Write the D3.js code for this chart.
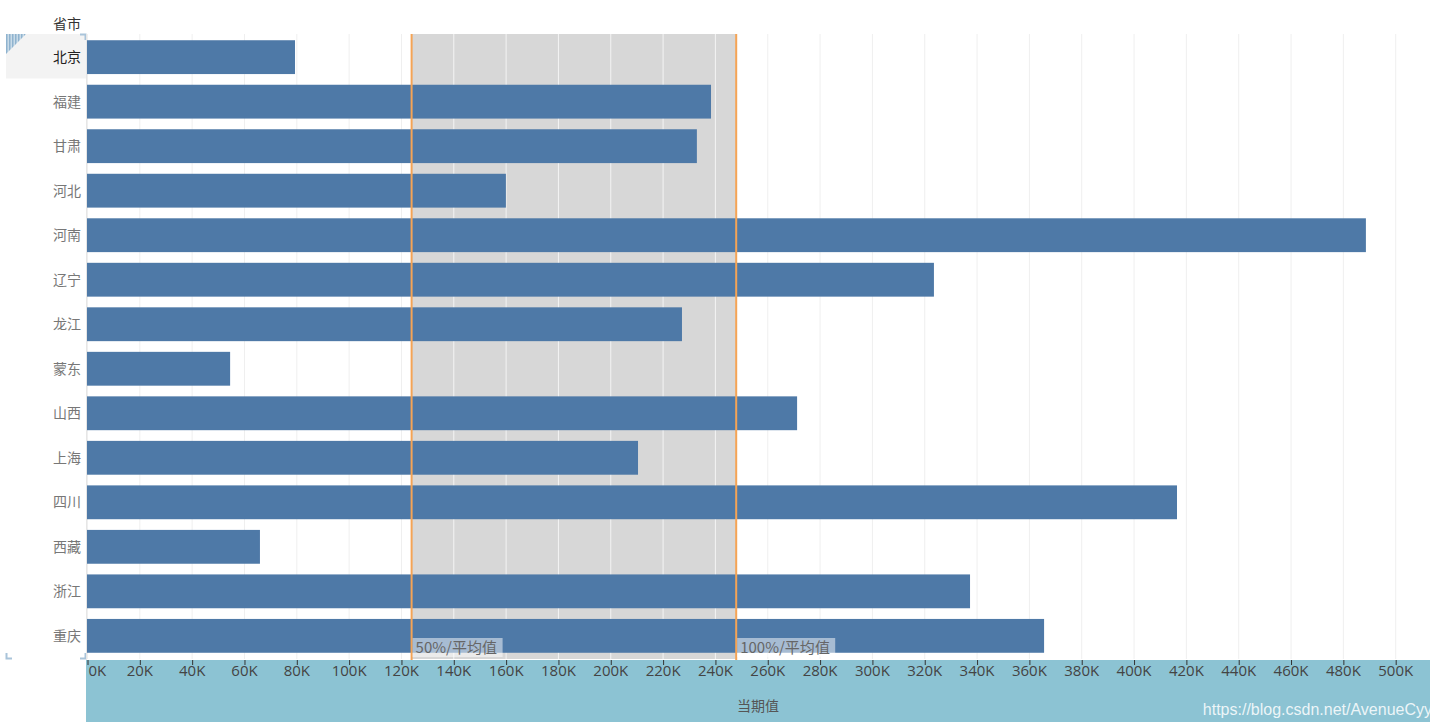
<!DOCTYPE html>
<html>
<head>
<meta charset="utf-8">
<script src="https://cdn.jsdelivr.net/npm/d3@7"></script>
<style>
  body { margin: 0; background: #fff; }
  svg { display: block; }
</style>
</head>
<body>
<div id="chart"></div>
<script>
// 省市 与 当期值
var provinces = ['北京', '福建', '甘肃', '河北', '河南', '辽宁', '龙江', '蒙东', '山西', '上海', '四川', '西藏', '浙江', '重庆'];
var values = [79500, 238500, 233100, 160100, 488800, 323700, 227400, 54700, 271400, 210600, 416600, 66100, 337500, 365800];
var tickValues = d3.range(0, 520000, 20000);
var bandPercents = [0.5, 1.0];
var bandLabels = ['50%/平均值', '100%/平均值'];

var W = 1442, H = 728;
var plotLeft = 87, plotRight = 1430, plotTop = 34, plotBottom = 659;

var svg = d3.select('#chart').append('svg')
    .attr('width', W)
    .attr('height', H);

var x = d3.scaleLinear().domain([0, 513300]).range([plotLeft, plotRight]);
var y = d3.scaleBand().domain(provinces).range([plotTop, plotBottom]).paddingInner(0.24).paddingOuter(0.14);

var avg = d3.mean(values);
var x0 = x(avg * bandPercents[0]), x1 = x(avg * bandPercents[1]);

// selected row background
svg.append('rect')
    .attr('x', 6).attr('y', plotTop)
    .attr('width', plotLeft - 7).attr('height', y.step())
    .attr('fill', '#f3f3f3');

// striped triangle in corner
var defs = svg.append('defs');
var pat = defs.append('pattern').attr('id', 'stripes')
    .attr('width', 3).attr('height', 3).attr('patternUnits', 'userSpaceOnUse');
pat.append('rect').attr('width', 3).attr('height', 3).attr('fill', '#c9dbe8');
pat.append('rect').attr('width', 1.5).attr('height', 3).attr('fill', '#8fb3cf');
svg.append('path')
    .attr('d', 'M6,34 L26,34 L6,54 Z')
    .attr('fill', 'url(#stripes)');

// corner brackets
var br = '#a9c4da';
svg.append('path').attr('d', 'M80,34.5 L85.5,34.5 L85.5,40').attr('fill', 'none').attr('stroke', br).attr('stroke-width', 2);
svg.append('path').attr('d', 'M6.5,653 L6.5,658.5 L12,658.5').attr('fill', 'none').attr('stroke', br).attr('stroke-width', 2);
svg.append('path').attr('d', 'M80,658.5 L85.5,658.5 L85.5,653').attr('fill', 'none').attr('stroke', br).attr('stroke-width', 2);

// grid lines
svg.append('g').selectAll('line')
    .data(tickValues)
    .enter()
    .append('line')
    .attr('x1', function (d) { return x(d) + 0.5; })
    .attr('x2', function (d) { return x(d) + 0.5; })
    .attr('y1', plotTop).attr('y2', plotBottom)
    .attr('stroke', '#efefef');

// reference band
svg.append('rect')
    .attr('x', x0).attr('y', plotTop)
    .attr('width', x1 - x0).attr('height', plotBottom - plotTop)
    .attr('fill', '#d7d7d7');

svg.append('g').selectAll('line')
    .data(tickValues.filter(function (d) { return x(d) > x0 + 1 && x(d) < x1 - 1; }))
    .enter()
    .append('line')
    .attr('x1', function (d) { return x(d) + 0.5; })
    .attr('x2', function (d) { return x(d) + 0.5; })
    .attr('y1', plotTop).attr('y2', plotBottom)
    .attr('stroke', '#f4f4f4');

// left axis line
svg.append('line')
    .attr('x1', plotLeft - 0.5).attr('x2', plotLeft - 0.5)
    .attr('y1', plotTop).attr('y2', plotBottom + 1)
    .attr('stroke', '#e6e6e6');

// bars
svg.append('g').selectAll('rect')
    .data(values)
    .enter()
    .append('rect')
    .attr('x', x(0))
    .attr('y', function (d, i) { return y(provinces[i]); })
    .attr('width', function (d) { return x(d) - x(0); })
    .attr('height', y.bandwidth())
    .attr('fill', '#4e79a7');

// reference lines
svg.append('g').selectAll('line')
    .data(bandPercents)
    .enter()
    .append('line')
    .attr('x1', function (d) { return x(avg * d); })
    .attr('x2', function (d) { return x(avg * d); })
    .attr('y1', plotTop).attr('y2', plotBottom + 1)
    .attr('stroke', '#f5a455')
    .attr('stroke-width', 2);

// reference labels
var lab = svg.append('g').selectAll('g')
    .data(bandPercents)
    .enter()
    .append('g')
    .attr('transform', function (d) { return 'translate(' + (x(avg * d) + 1) + ',638)'; });
lab.append('rect')
    .attr('width', function (d, i) { return i === 0 ? 90 : 98; })
    .attr('height', 19)
    .attr('fill', '#ffffff')
    .attr('fill-opacity', 0.5);
lab.append('text')
    .attr('x', 3).attr('y', 15)
    .attr('font-family', 'Noto Sans CJK SC, sans-serif')
    .attr('font-size', 15)
    .attr('fill', '#666')
    .text(function (d, i) { return bandLabels[i]; });

// row labels
svg.append('text')
    .attr('x', 81).attr('y', 29)
    .attr('text-anchor', 'end')
    .attr('font-family', 'Noto Sans CJK SC, sans-serif')
    .attr('font-size', 14)
    .attr('fill', '#333')
    .text('省市');

svg.append('g').selectAll('text')
    .data(provinces)
    .enter()
    .append('text')
    .attr('x', 81)
    .attr('y', function (d) { return y(d) + y.bandwidth() / 2 + 5; })
    .attr('text-anchor', 'end')
    .attr('font-family', 'Noto Sans CJK SC, sans-serif')
    .attr('font-size', 14)
    .attr('fill', function (d, i) { return i === 0 ? '#222' : '#777'; })
    .text(function (d) { return d; });

// x axis area
svg.append('rect')
    .attr('x', plotLeft - 1).attr('y', 660)
    .attr('width', plotRight - plotLeft + 1).attr('height', 62)
    .attr('fill', '#8cc3d3');

var axis = svg.append('g')
    .attr('transform', 'translate(0,660)')
    .call(d3.axisBottom(x)
        .tickValues(tickValues)
        .tickSize(5)
        .tickFormat(function (d) { return (d / 1000) + 'K'; }));
axis.select('.domain').remove();
axis.selectAll('line').attr('stroke', '#333').attr('transform', 'translate(0.5,0)');
axis.selectAll('text')
    .attr('font-family', 'Open Sans, Noto Sans, sans-serif')
    .attr('font-size', 15)
    .attr('fill', '#444')
    .attr('dy', '0.5em');
axis.selectAll('.tick').filter(function (d) { return d === 0; })
    .select('text').attr('text-anchor', 'start').attr('x', 1);

svg.append('text')
    .attr('x', 758).attr('y', 711)
    .attr('text-anchor', 'middle')
    .attr('font-family', 'Noto Sans CJK SC, sans-serif')
    .attr('font-size', 14)
    .attr('fill', '#555')
    .text('当期值');

// watermark
svg.append('text')
    .attr('x', 1432).attr('y', 715)
    .attr('text-anchor', 'end')
    .attr('font-family', 'Liberation Sans, Arial, sans-serif')
    .attr('font-size', 16)
    .attr('fill', '#ffffff')
    .attr('fill-opacity', 0.85)
    .text('https://blog.csdn.net/AvenueCyy');
</script>
</body>
</html>
